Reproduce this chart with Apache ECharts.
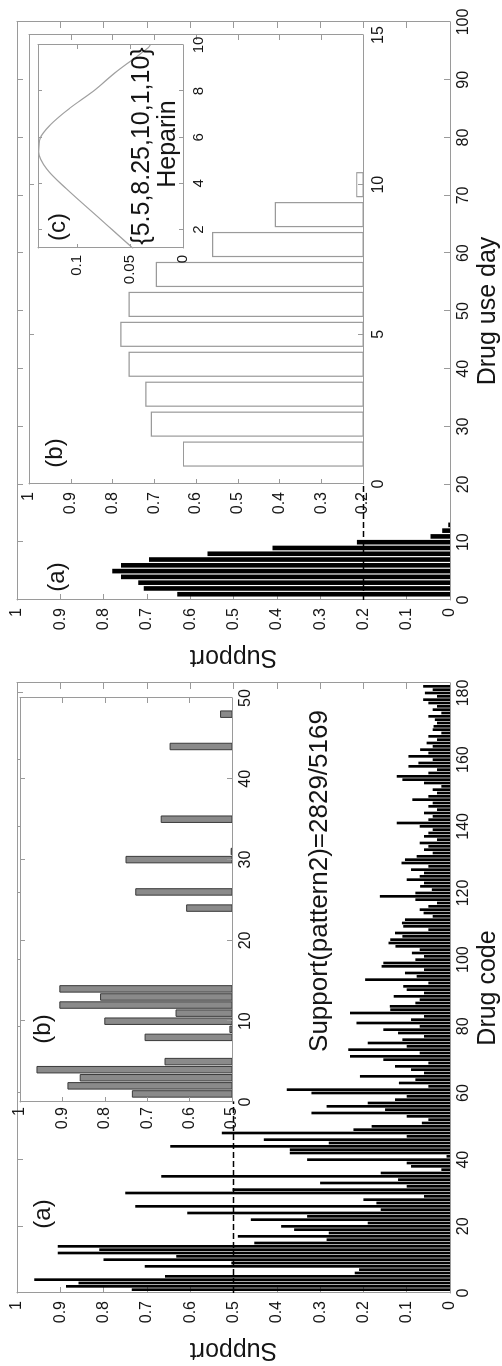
<!DOCTYPE html>
<html>
<head>
<meta charset="utf-8">
<script src="https://cdn.jsdelivr.net/npm/echarts@6/dist/echarts.min.js"></script>
<style>
  html, body { margin: 0; padding: 0; width: 502px; height: 1366px; overflow: hidden; background: #fff; }
  /* the figure is laid out landscape and turned a quarter turn to sit upright on the page */
  #chart { position: absolute; left: 0; top: 0; width: 1366px; height: 502px;
           transform-origin: 0 0; transform: translateY(1366px) rotate(-90deg); }
</style>
</head>
<body>
<div id="chart"></div>
<script>
// Support of each drug code (codes 1..182)
const drugCodeSupport = [
  0.735, 0.887, 0.858, 0.96, 0.658, 0.22, 0.21, 0.705, 0.505, 0.80,
  0.632, 0.906, 0.81, 0.906, 0.452, 0.285, 0.49, 0.28, 0.36, 0.39,
  0.19, 0.46, 0.33, 0.607, 0.16, 0.727, 0.17, 0.2, 0.06, 0.75,
  0.502, 0.1, 0.3, 0.12, 0.667, 0.16, 0.02, 0.09, 0.1, 0.33,
  0.008, 0.37, 0.37, 0.646, 0.28, 0.43, 0.1, 0.527, 0.223, 0.181,
  0.065, 0.05, 0.1, 0.32, 0.15, 0.285, 0.19, 0.127, 0.1, 0.32,
  0.377, 0.05, 0.118, 0.08, 0.208, 0.06, 0.09, 0.127, 0.05, 0.154,
  0.231, 0.07, 0.235, 0.1, 0.19, 0.11, 0.06, 0.12, 0.154, 0.07,
  0.216, 0.09, 0.06, 0.231, 0.138, 0.139, 0.08, 0.07, 0.13, 0.06,
  0.1, 0.108, 0.05, 0.196, 0.077, 0.104, 0.06, 0.158, 0.154, 0.08,
  0.06, 0.088, 0.07, 0.126, 0.142, 0.138, 0.11, 0.127, 0.05, 0.108,
  0.111, 0.104, 0.04, 0.061, 0.07, 0.05, 0.03, 0.08, 0.162, 0.08,
  0.042, 0.069, 0.06, 0.1, 0.07, 0.06, 0.09, 0.05, 0.112, 0.104,
  0.077, 0.04, 0.06, 0.05, 0.07, 0.03, 0.06, 0.05, 0.04, 0.07,
  0.123, 0.05, 0.04, 0.06, 0.03, 0.05, 0.04, 0.087, 0.05, 0.03,
  0.04, 0.02, 0.06, 0.11, 0.123, 0.05, 0.03, 0.096, 0.073, 0.04,
  0.096, 0.05, 0.069, 0.04, 0.054, 0.03, 0.05, 0.02, 0.04, 0.038,
  0.03, 0.035, 0.05, 0.02, 0.04, 0.03, 0.05, 0.062, 0.03, 0.058,
  0.04, 0.062
];
const firstDrugCode = 1;

// Support of each drug use day (days 1..13)
const drugDaySupport = [0.63, 0.707, 0.72, 0.76, 0.78, 0.76, 0.695, 0.56, 0.41, 0.215, 0.045, 0.018, 0.004];
const firstDrugDay = 1;

// Heparin use-day distribution curve
const heparinDays    = [1.2, 1.22, 2.45, 3.76, 4.64, 5.37, 5.95, 6.53, 7.26, 7.99, 8.86, 9.59, 9.88, 10.0];
const heparinDensity = [0.047, 0.048, 0.078, 0.110, 0.129, 0.1365, 0.135, 0.1255, 0.107, 0.085, 0.0625, 0.041, 0.033, 0.031];

// Support thresholds (dashed lines) and the stretch of each axis they run along
const codeThreshold = 0.5;
const codeThresholdSpan = [0, 57.5];
const dayThreshold = 0.2;
const dayThresholdSpan = [0, 20];

// Axis ticks
const supportTicks = [0, 0.1, 0.2, 0.3, 0.4, 0.5, 0.6, 0.7, 0.8, 0.9, 1];
const codeTicks = [0, 20, 40, 60, 80, 100, 120, 140, 160, 180];
const insetCodeTicks = [0, 10, 20, 30, 40, 50];
const insetCodeSupportTicks = [0.5, 0.6, 0.7, 0.8, 0.9, 1];
const dayTicks = [0, 10, 20, 30, 40, 50, 60, 70, 80, 90, 100];
const insetDayTicks = [0, 5, 10, 15];
const insetDaySupportTicks = [0.2, 0.3, 0.4, 0.5, 0.6, 0.7, 0.8, 0.9, 1];
const heparinDayTicks = [2, 4, 6, 8, 10];
const heparinDensityTicks = [0, 0.05, 0.1];

const FRAME = '#9a9a9a';
const INK = '#151515';
const FONT = '"Liberation Sans", Arial, Helvetica, sans-serif';

const grids = [], xAxes = [], yAxes = [], series = [];

function makeAxis(gi, pos, range, ticks, showLabel, margin, fontSize, tickLen, z, name, nameGap) {
  const a = {
    type: 'value', gridIndex: gi, position: pos, min: range[0], max: range[1], z: z,
    axisLine: { show: true, onZero: false, lineStyle: { color: FRAME, width: 1 } },
    axisTick: { show: true, inside: true, length: tickLen, customValues: ticks, lineStyle: { color: FRAME, width: 1 } },
    axisLabel: { show: showLabel, customValues: ticks, margin: margin, fontSize: fontSize, color: INK, fontFamily: FONT },
    splitLine: { show: false }
  };
  if (name) {
    a.name = name;
    a.nameLocation = 'middle';
    a.nameGap = nameGap;
    a.nameMoveOverlap = false;
    a.nameTextStyle = { fontSize: 25, color: INK, fontFamily: FONT };
  }
  return a;
}

// one boxed axes: labelled bottom/left axes plus mirrored top/right ticks
function addPanel(p) {
  const gi = grids.length;
  grids.push({
    left: p.left, top: p.top, width: p.width, height: p.height,
    containLabel: false, outerBoundsMode: 'none',
    show: !!p.fill, backgroundColor: '#fff', borderWidth: 0, z: p.z
  });
  const xi = xAxes.length, yi = yAxes.length;
  xAxes.push(makeAxis(gi, 'bottom', p.xRange, p.xTicks, true, p.xMargin, p.fontSize, p.tickLen, p.z + 1, p.xName, p.xNameGap));
  xAxes.push(makeAxis(gi, 'top', p.xRange, p.xTicks, false, 8, p.fontSize, p.tickLen, p.z + 1));
  yAxes.push(makeAxis(gi, 'left', p.yRange, p.yTicks, true, p.yMargin, p.fontSize, p.tickLen, p.z + 1, p.yName, p.yNameGap));
  yAxes.push(makeAxis(gi, 'right', p.yRange, p.yTicks, false, 8, p.fontSize, p.tickLen, p.z + 1));
  return { xi: xi, yi: yi };
}

// vertical bars of width w centred on their position, clipped to the plot box
function barSeries(ax, xs, vs, w, style, z) {
  return {
    type: 'custom', xAxisIndex: ax.xi, yAxisIndex: ax.yi, z: z, silent: true,
    data: vs.map((v, i) => [xs[i], v]),
    encode: { x: 0, y: 1 },
    renderItem: function (params, api) {
      const x = api.value(0), v = api.value(1);
      const a = api.coord([x - w / 2, v]);
      const b = api.coord([x + w / 2, 0]);
      const cs = params.coordSys;
      const shape = echarts.graphic.clipRectByRect(
        { x: a[0], y: a[1], width: b[0] - a[0], height: b[1] - a[1] },
        { x: cs.x, y: cs.y, width: cs.width, height: cs.height });
      if (!shape) return null;
      return { type: 'rect', shape: shape, style: Object.assign({}, style) };
    }
  };
}

function thresholdSeries(ax, span, level, z) {
  return {
    type: 'line', xAxisIndex: ax.xi, yAxisIndex: ax.yi, z: z, silent: true,
    data: [[span[0], level], [span[1], level]],
    showSymbol: false, symbol: 'none', animation: false,
    lineStyle: { color: '#000', width: 1.5, type: [6, 3] }
  };
}

const codeXs = drugCodeSupport.map((_, i) => i + firstDrugCode);
const dayXs = drugDaySupport.map((_, i) => i + firstDrugDay);

// (a) left: support by drug code
const pCode = addPanel({ left: 73, top: 17, width: 610, height: 433, z: 0, fontSize: 16, tickLen: 6,
  xRange: [0, 183], xTicks: codeTicks, xMargin: 6, xName: 'Drug code', xNameGap: 26,
  yRange: [0, 1], yTicks: supportTicks, yMargin: 8, yName: 'Support', yNameGap: 44 });
series.push(barSeries(pCode, codeXs, drugCodeSupport, 0.8, { fill: '#000' }, 2));
series.push(thresholdSeries(pCode, codeThresholdSpan, codeThreshold, 3));

// (b) left inset: drug codes 0..50 above the 0.5 threshold
const pCodeZoom = addPanel({ left: 264, top: 20, width: 404, height: 212, z: 5, fill: true, fontSize: 16, tickLen: 5,
  xRange: [0, 50], xTicks: insetCodeTicks, xMargin: 6,
  yRange: [0.5, 1], yTicks: insetCodeSupportTicks, yMargin: 5 });
series.push(barSeries(pCodeZoom, codeXs, drugCodeSupport, 0.8, { fill: '#8a8a8a', stroke: '#3a3a3a', lineWidth: 1 }, 6));

// (a) right: support by drug use day
const pDay = addPanel({ left: 766, top: 17, width: 578, height: 433, z: 0, fontSize: 16, tickLen: 6,
  xRange: [0, 100], xTicks: dayTicks, xMargin: 6, xName: 'Drug use day', xNameGap: 26,
  yRange: [0, 1], yTicks: supportTicks, yMargin: 8, yName: 'Support', yNameGap: 44 });
series.push(barSeries(pDay, dayXs, drugDaySupport, 0.8, { fill: '#000' }, 2));
series.push(thresholdSeries(pDay, dayThresholdSpan, dayThreshold, 3));

// (b) right inset: days 0..15 above the 0.2 threshold
const pDayZoom = addPanel({ left: 882, top: 29, width: 449, height: 334, z: 5, fill: true, fontSize: 16, tickLen: 5,
  xRange: [0, 15], xTicks: insetDayTicks, xMargin: 8,
  yRange: [0.2, 1], yTicks: insetDaySupportTicks, yMargin: 8 });
series.push(barSeries(pDayZoom, dayXs, drugDaySupport, 0.8, { fill: '#fff', stroke: '#9a9a9a', lineWidth: 1.2 }, 6));

// (c) heparin use-day curve
const pHeparin = addPanel({ left: 1118, top: 38, width: 203, height: 145, z: 8, fill: true, fontSize: 15, tickLen: 4,
  xRange: [1.2, 10], xTicks: heparinDayTicks, xMargin: 8,
  yRange: [0, 0.137], yTicks: heparinDensityTicks, yMargin: 7 });
series.push({
  type: 'line', xAxisIndex: pHeparin.xi, yAxisIndex: pHeparin.yi, z: 9, silent: true,
  data: heparinDays.map((d, i) => [d, heparinDensity[i]]),
  smooth: 0.35, showSymbol: false, symbol: 'none', clip: true,
  lineStyle: { color: '#a0a0a0', width: 1.2 }
});

function label(text, x, y, size) {
  return { type: 'text', x: x, y: y, z: 100, silent: true,
    style: { text: text, fontSize: size, fontFamily: FONT, fill: INK, align: 'center', verticalAlign: 'middle' } };
}

const chart = echarts.init(document.getElementById('chart'), null, { renderer: 'canvas', width: 1366, height: 502 });
chart.setOption({
  animation: false,
  backgroundColor: '#fff',
  grid: grids,
  xAxis: xAxes,
  yAxis: yAxes,
  series: series,
  graphic: { elements: [
    label('(a)', 152, 43, 24),
    label('(b)', 337, 43, 24),
    label('Support(pattern2)=2829/5169', 485, 320, 26),
    label('(a)', 789, 57, 24),
    label('(b)', 913, 55, 24),
    label('(c)', 1139, 58, 24),
    label('{5.5,8.25,10,1,10}', 1220, 142, 25),
    label('Heparin', 1222, 168, 25)
  ] }
});
</script>
</body>
</html>
